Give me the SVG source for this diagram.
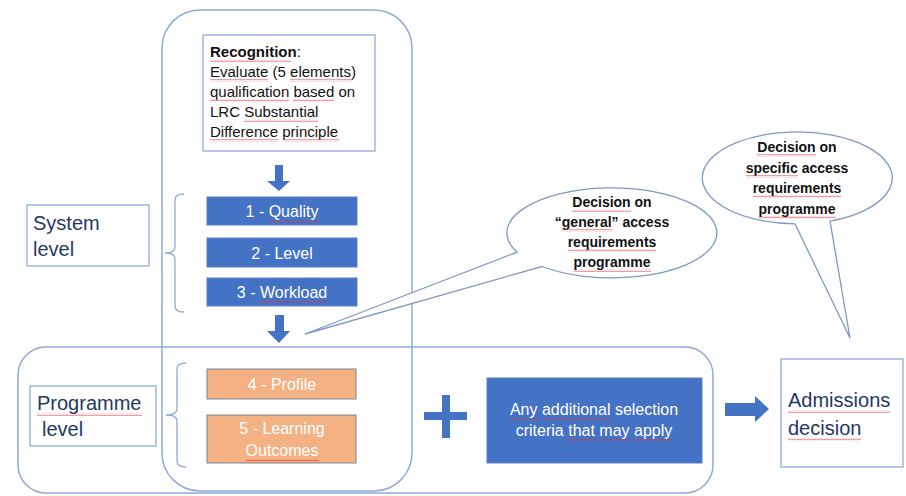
<svg xmlns="http://www.w3.org/2000/svg" width="906" height="496" viewBox="0 0 906 496">
  <defs>
    <!-- red wavy spell-check underline -->
    <pattern id="wave" patternUnits="userSpaceOnUse" width="4" height="3">
      <path d="M0 2.3 L1 0.7 L2 2.3 L3 0.7 L4 2.3" fill="none" stroke="#E0353B" stroke-width="0.6" stroke-opacity="0.8"/>
    </pattern>
  </defs>
  <style>
    .frame { fill: none; stroke: #8FAADC; stroke-width: 1.5; }
    .label { fill: #FFFFFF; stroke: #8FAADC; stroke-width: 1.3; }
    .brace { fill: none; stroke: #8FAADC; stroke-width: 1.3; }
    .blue { fill: #4472C4; stroke: #5A80C8; stroke-width: 1; }
    .orange { fill: #F4B183; stroke: #7C8494; stroke-width: 1; }
    .callout { fill: #FFFFFF; stroke: #7D98CA; stroke-width: 1.3; }
    .solid { fill: #4472C4; }
    .t { font-family: "Liberation Sans", Arial, sans-serif; }
    .rec { font-size: 15px; fill: #111111; }
    .box { font-size: 16px; fill: #FFFFFF; text-anchor: middle; }
    .big { font-size: 20px; fill: #1F3864; }
    .bub { font-size: 14px; font-weight: bold; fill: #111111; text-anchor: middle; }
    .sq { fill: url(#wave); }
  </style>

  <!-- level containers -->
  <g id="programme-frame">
    <rect class="frame" x="18" y="347" width="695" height="146" rx="28" ry="28"/>
  </g>
  <g id="system-frame">
    <rect class="frame" x="162" y="10" width="250" height="481" rx="38" ry="38"/>
  </g>

  <!-- recognition box -->
  <g id="recognition">
    <rect class="label" x="203" y="35" width="172" height="116"/>
    <text class="t rec" x="210" y="57"><tspan font-weight="bold">Recognition</tspan>:</text>
    <text class="t rec" x="210" y="77">Evaluate (5 elements)</text>
    <text class="t rec" x="210" y="97">qualification based on</text>
    <text class="t rec" x="210" y="117">LRC Substantial</text>
    <text class="t rec" x="210" y="137">Difference principle</text>
    <rect class="sq" x="210" y="59" width="81" height="3"/>
    <rect class="sq" x="210" y="79" width="58" height="3"/>
    <rect class="sq" x="290" y="79" width="61" height="3"/>
    <rect class="sq" x="210" y="99" width="79" height="3"/>
    <rect class="sq" x="293" y="99" width="41" height="3"/>
    <rect class="sq" x="244" y="119" width="74" height="3"/>
    <rect class="sq" x="210" y="139" width="68" height="3"/>
    <rect class="sq" x="283" y="139" width="56" height="3"/>
  </g>

  <!-- system level label -->
  <g id="system-level">
    <rect class="label" x="27" y="205" width="122" height="61"/>
    <text class="t big" x="33" y="230">System</text>
    <text class="t big" x="33" y="256">level</text>
  </g>

  <!-- brace grouping criteria 1-3 -->
  <g id="system-brace">
    <path class="brace" d="M184 194 Q175 194 175 200 L175 247 Q175 253 165 253 Q175 253 175 259 L175 306 Q175 312 184 312"/>
  </g>

  <g id="quality">
    <rect class="blue" x="207" y="197" width="150" height="28"/>
    <text class="t box" x="282" y="217">1 - Quality</text>
    <rect class="sq" x="269" y="220" width="50" height="3"/>
  </g>
  <g id="level">
    <rect class="blue" x="207" y="238" width="150" height="29"/>
    <text class="t box" x="282" y="259">2 - Level</text>
  </g>
  <g id="workload">
    <rect class="blue" x="207" y="278" width="150" height="28"/>
    <text class="t box" x="282" y="298">3 - Workload</text>
    <rect class="sq" x="260" y="301" width="67" height="3"/>
  </g>

  <!-- programme level label -->
  <g id="programme-level">
    <rect class="label" x="30" y="386" width="126" height="60"/>
    <text class="t big" x="37" y="410">Programme</text>
    <text class="t big" x="42" y="436">level</text>
    <rect class="sq" x="37" y="413" width="105" height="3"/>
  </g>

  <!-- brace grouping criteria 4-5 -->
  <g id="programme-brace">
    <path class="brace" d="M186 363 Q177 363 177 369 L177 409 Q177 415 166 415 Q177 415 177 421 L177 461 Q177 467 186 467"/>
  </g>

  <g id="profile">
    <rect class="orange" x="207" y="369" width="149" height="30"/>
    <text class="t box" x="282" y="390">4 - Profile</text>
  </g>
  <g id="learning-outcomes">
    <rect class="orange" x="207" y="415" width="149" height="48"/>
    <text class="t box" x="282" y="434">5 - Learning</text>
    <text class="t box" x="282" y="456">Outcomes</text>
    <rect class="sq" x="246" y="459" width="73" height="3"/>
  </g>

  <!-- additional criteria -->
  <g id="additional-criteria">
    <rect class="blue" x="487" y="378" width="215" height="85"/>
    <text class="t box" x="594" y="415">Any additional selection</text>
    <text class="t box" x="594" y="436">criteria that may apply</text>
    <rect class="sq" x="510" y="418" width="28" height="3"/>
    <rect class="sq" x="542" y="418" width="69" height="3"/>
    <rect class="sq" x="568" y="439" width="27" height="3"/>
    <rect class="sq" x="599" y="439" width="30" height="3"/>
    <rect class="sq" x="633" y="439" width="39" height="3"/>
  </g>

  <!-- admissions decision -->
  <g id="admissions">
    <rect class="label" x="781" y="359" width="122" height="108"/>
    <text class="t big" x="788" y="407">Admissions</text>
    <text class="t big" x="788" y="435">decision</text>
    <rect class="sq" x="788" y="410" width="102" height="3"/>
    <rect class="sq" x="788" y="438" width="73" height="3"/>
  </g>

  <!-- callouts -->
  <g id="general-callout">
    <path class="callout" d="M542 266.5 A105 45 0 1 0 517 252.2 L305 334 Z"/>
    <text class="t bub" x="612" y="207">Decision on</text>
    <text class="t bub" x="612" y="227">“general” access</text>
    <text class="t bub" x="612" y="247">requirements</text>
    <text class="t bub" x="612" y="267">programme</text>
    <rect class="sq" x="572" y="209" width="59" height="3"/>
    <rect class="sq" x="562" y="229" width="50" height="3"/>
    <rect class="sq" x="568" y="249" width="88" height="3"/>
    <rect class="sq" x="574" y="269" width="77" height="3"/>
  </g>
  <g id="specific-callout">
    <path class="callout" d="M830 221.1 A95 46 0 1 0 795 223.9 L850 338 Z"/>
    <text class="t bub" x="797" y="152">Decision on</text>
    <text class="t bub" x="797" y="173">specific access</text>
    <text class="t bub" x="797" y="193">requirements</text>
    <text class="t bub" x="797" y="214">programme</text>
    <rect class="sq" x="757" y="154" width="59" height="3"/>
    <rect class="sq" x="746" y="175" width="52" height="3"/>
    <rect class="sq" x="753" y="195" width="88" height="3"/>
    <rect class="sq" x="759" y="216" width="77" height="3"/>
  </g>

  <!-- block arrows and plus sign -->
  <g id="connectors">
    <polygon class="solid" points="275,165 283,165 283,181 290,181 279,191 267,181 275,181"/>
    <polygon class="solid" points="275,315 284,315 284,331 290,331 279,343 267,331 275,331"/>
    <polygon class="solid" points="725,403 755,403 755,396 769,409 755,422 755,416 725,416"/>
    <path class="solid" d="M442 395 H450 V412 H467 V420 H450 V438 H442 V420 H424 V412 H442 Z"/>
  </g>
</svg>
